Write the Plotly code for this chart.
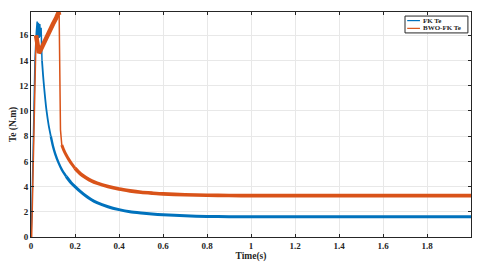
import plotly.graph_objects as go

# ---- data ----
t_fk = [0, 0.004, 0.010, 0.018, 0.024, 0.028, 0.031, 0.034, 0.037, 0.040, 0.043, 0.046,
        0.050, 0.055, 0.060, 0.065, 0.070, 0.080, 0.090, 0.100, 0.110, 0.125, 0.140,
        0.160, 0.180, 0.200, 0.225, 0.250, 0.275, 0.300, 0.350, 0.400, 0.450, 0.500,
        0.550, 0.600, 0.700, 0.800, 0.900, 1.000, 1.500, 2.000]
te_fk = [0, 2.0, 7.0, 14.0, 16.2, 17.1, 15.6, 17.0, 15.8, 16.9, 15.9, 16.6,
         14.0, 12.8, 11.8, 10.9, 10.1, 8.9, 8.0, 7.2, 6.6, 5.9, 5.35,
         4.8, 4.35, 4.0, 3.6, 3.25, 2.95, 2.72, 2.4, 2.17, 2.0, 1.9,
         1.82, 1.76, 1.68, 1.63, 1.61, 1.60, 1.60, 1.60]

t_bwo = [0, 0.003, 0.008, 0.015, 0.020, 0.023, 0.030, 0.036, 0.040, 0.060, 0.080,
         0.100, 0.115, 0.125, 0.128, 0.131, 0.134, 0.140, 0.150, 0.160, 0.170, 0.185,
         0.200, 0.225, 0.250, 0.275, 0.300, 0.350, 0.400, 0.450, 0.500, 0.550, 0.600,
         0.700, 0.800, 0.900, 1.000, 1.500, 2.000]
te_bwo = [0, 0, 4.0, 9.0, 14.0, 16.0, 15.2, 14.6, 14.7, 15.5, 16.2,
          16.9, 17.4, 17.8, 17.6, 12.0, 8.5, 7.3, 6.85, 6.5, 6.2, 5.8,
          5.45, 5.0, 4.7, 4.45, 4.27, 4.0, 3.8, 3.66, 3.55, 3.48, 3.42,
          3.35, 3.31, 3.29, 3.28, 3.28, 3.28]

series_names = ["FK Te", "BWO-FK Te"]

x_ticks = [0, 0.2, 0.4, 0.6, 0.8, 1, 1.2, 1.4, 1.6, 1.8]
x_tick_text = ["0", "0.2", "0.4", "0.6", "0.8", "1", "1.2", "1.4", "1.6", "1.8"]
y_ticks = [0, 2, 4, 6, 8, 10, 12, 14, 16]

BLUE = "#0072BD"
ORANGE = "#D95319"
FONT = "Liberation Serif, Times New Roman, serif"
INK = "#262626"

fig = go.Figure()


def add_segments(t, y, segs, color, name):
    """segs: list of (t_start, t_end, width, smooth); each drawn as its own trace."""
    for a, b, w, smooth in segs:
        xs = [ti for ti in t if a <= ti <= b]
        ys = [yi for ti, yi in zip(t, y) if a <= ti <= b]
        line = dict(color=color, width=w)
        if smooth:
            line.update(shape="spline", smoothing=0.6)
        fig.add_trace(go.Scatter(
            x=xs, y=ys, mode="lines", name=name, legendgroup=name,
            showlegend=False, line=line))


add_segments(t_fk, te_fk,
             [(0, 0.05, 1.5, False), (0.05, 0.09, 1.8, True), (0.09, 0.16, 2.4, True),
              (0.16, 2.0, 3.0, True)],
             BLUE, series_names[0])
add_segments(t_bwo, te_bwo,
             [(0, 0.023, 1.5, False), (0.023, 0.128, 4.5, False), (0.128, 0.140, 1.5, False),
              (0.140, 0.2, 3.0, True), (0.2, 2.0, 3.6, True)],
             ORANGE, series_names[1])

# compact MATLAB-style legend box (top right, inside axes)
lx0, lx1, ly0, ly1 = 0.850, 0.993, 0.907, 0.982
fig.add_shape(type="rect", xref="paper", yref="paper", x0=lx0, x1=lx1, y0=ly0, y1=ly1,
              line=dict(color=INK, width=1), fillcolor="white", layer="above")
for i, (name, col) in enumerate(zip(series_names, [BLUE, ORANGE])):
    yy = ly1 - (ly1 - ly0) * (0.27 + 0.46 * i)
    fig.add_shape(type="line", xref="paper", yref="paper",
                  x0=lx0 + 0.005, x1=lx0 + 0.034, y0=yy, y1=yy,
                  line=dict(color=col, width=1.2), layer="above")
    fig.add_annotation(x=lx0 + 0.036, y=yy, xref="paper", yref="paper",
                       text=name, showarrow=False, xanchor="left", yanchor="middle",
                       font=dict(family=FONT, size=7, color=INK, weight="bold"))

axis_common = dict(
    showline=True, linecolor=INK, linewidth=1, mirror="ticks",
    ticks="inside", ticklen=3, tickcolor=INK,
    showgrid=True, gridcolor="#e8e8e8", gridwidth=1, zeroline=False,
    automargin=False,
    tickfont=dict(family=FONT, size=9, color=INK, weight="bold"),
)

fig.update_xaxes(
    range=[0, 2], tickvals=x_ticks, ticktext=x_tick_text,
    title=dict(text="Time(s)", font=dict(family=FONT, size=9.5, color=INK, weight="bold"),
               standoff=0),
    **axis_common)
fig.update_yaxes(
    range=[0, 17.85], tickvals=y_ticks,
    title=dict(text="Te (N.m)", font=dict(family=FONT, size=9.5, color=INK, weight="bold"),
               standoff=3),
    **axis_common)

# the page body has an 8px margin, so the figure is sized to fit the 480x269 window
fig.update_layout(
    width=472, height=261,
    margin=dict(l=23, r=9, t=4, b=32),
    paper_bgcolor="white", plot_bgcolor="white",
    showlegend=False,
)

fig.write_html("out.html")
